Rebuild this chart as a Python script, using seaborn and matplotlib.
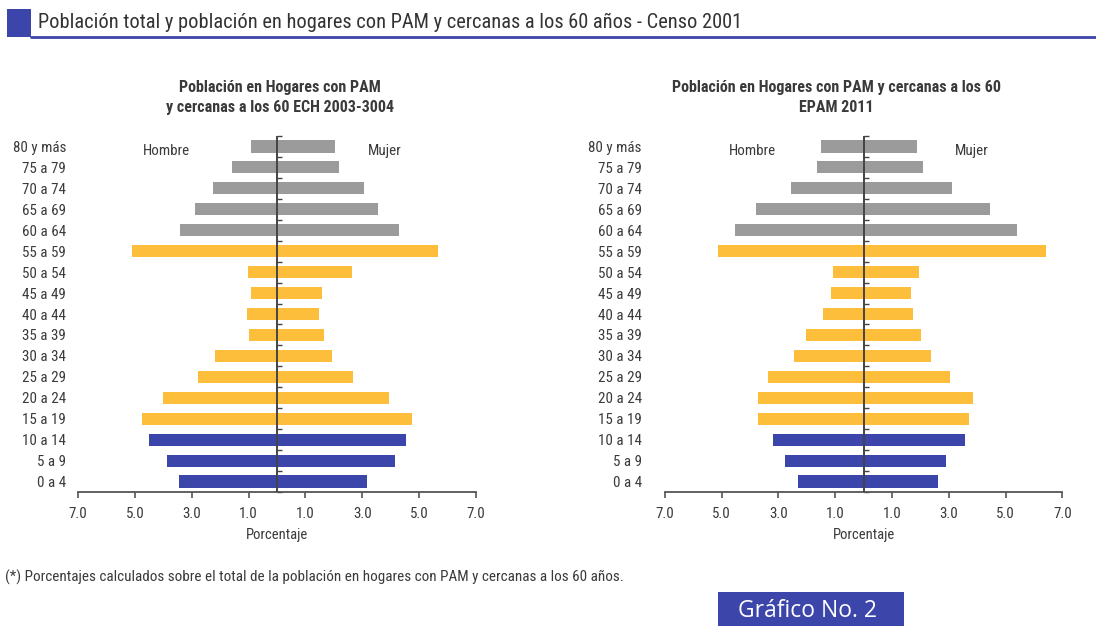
import matplotlib
matplotlib.use("Agg")
import matplotlib.pyplot as plt
from matplotlib import font_manager
from matplotlib.patches import Rectangle
from matplotlib.ticker import FuncFormatter, FixedLocator
import seaborn as sns
import pandas as pd
import numpy as np

# ---------------- data ----------------
edades = ["80 y más", "75 a 79", "70 a 74", "65 a 69", "60 a 64", "55 a 59",
          "50 a 54", "45 a 49", "40 a 44", "35 a 39", "30 a 34", "25 a 29",
          "20 a 24", "15 a 19", "10 a 14", "5 a 9", "0 a 4"]

# ECH 2003-2004
hombre_ech = [0.92, 1.58, 2.25, 2.89, 3.42, 5.10, 1.02, 0.92, 1.06, 0.99,
              2.18, 2.78, 4.01, 4.75, 4.51, 3.87, 3.45]
mujer_ech = [2.04, 2.18, 3.06, 3.56, 4.30, 5.67, 2.64, 1.58, 1.48, 1.65,
             1.94, 2.68, 3.94, 4.75, 4.54, 4.15, 3.17]

# EPAM 2011
hombre_epam = [1.51, 1.62, 2.54, 3.77, 4.54, 5.14, 1.09, 1.16, 1.44, 2.04,
               2.43, 3.38, 3.73, 3.73, 3.20, 2.78, 2.29]
mujer_epam = [1.90, 2.08, 3.13, 4.47, 5.42, 6.44, 1.94, 1.69, 1.73, 2.04,
              2.39, 3.03, 3.84, 3.73, 3.59, 2.92, 2.64]

grupo = ["mayor"] * 5 + ["cercana"] * 9 + ["nino"] * 3
colores_grupo = {"mayor": "#9b9b9b", "cercana": "#fdbe3b", "nino": "#3c45aa"}

xticks_vals = [-7, -5, -3, -1, 1, 3, 5, 7]

titulo = "Población total y población en hogares con PAM y cercanas a los 60 años - Censo 2001"
sub_izq = "Población en Hogares con PAM\ny cercanas a los 60 ECH 2003-3004"
sub_der = "Población en Hogares con PAM y cercanas a los 60\nEPAM 2011"
nota = "(*) Porcentajes calculados sobre el total de la población en hogares con PAM y cercanas a los 60 años."
grafico = "Gráfico No. 2"

# ---------------- style ----------------
sns.set_theme(style="white")
available = {f.name for f in font_manager.fontManager.ttflist}
def pick(*names):
    for n in names:
        if n in available:
            return n
    return "DejaVu Sans"
FONT = pick("Liberation Sans Narrow", "Roboto Condensed", "Open Sans Condensed",
            "Noto Sans", "DejaVu Sans")
WIDE = pick("Open Sans", "Noto Sans", "DejaVu Sans")
plt.rcParams["font.family"] = [FONT, "DejaVu Sans"]
TXT = "#3a3a3a"
BLUE = "#3c45aa"

fig = plt.figure(figsize=(10.96, 6.26), dpi=100)
W, H = 1096, 626

palette = {e: colores_grupo[g] for e, g in zip(edades, grupo)}


def piramide(ax, hombre, mujer, label_pad):
    df = pd.DataFrame({"edad": edades,
                       "hombre": [-v for v in hombre],
                       "mujer": mujer})
    for col in ["hombre", "mujer"]:
        sns.barplot(data=df, x=col, y="edad", hue="edad", order=edades,
                    hue_order=edades, palette=palette, saturation=1,
                    width=0.58, errorbar=None, legend=False, ax=ax,
                    linewidth=0, edgecolor="none")
    ax.set_xlim(-7, 7)
    ax.set_ylim(len(edades) - 0.5, -0.5)
    ax.set_xlabel("Porcentaje", color=TXT, fontsize=10.5, labelpad=5)
    ax.set_ylabel("")
    ax.xaxis.set_major_locator(FixedLocator(xticks_vals))
    ax.xaxis.set_major_formatter(FuncFormatter(lambda v, p: f"{abs(v):.1f}"))
    for s in ["top", "right", "left"]:
        ax.spines[s].set_visible(False)
    ax.spines["bottom"].set_color("#555555")
    ax.spines["bottom"].set_linewidth(1.3)
    ax.tick_params(axis="x", bottom=True, length=4, width=1.2, color="#555555",
                   labelsize=10.8, labelcolor=TXT, pad=7)
    ax.tick_params(axis="y", left=False, length=0, labelsize=10.8,
                   labelcolor=TXT, pad=label_pad)
    # centre line with small ticks between groups
    ax.axvline(0, color="#444444", lw=1.4, zorder=5)
    sec = ax.secondary_yaxis(0.5)
    sec.set_yticks(np.arange(len(edades) + 1) - 0.5)
    sec.set_yticklabels([])
    sec.tick_params(axis="y", length=3.5, width=1.0, color="#444444",
                    direction="out")
    for s in sec.spines:
        sec.spines[s].set_visible(False)
    ax.text(-3.9, 0.2, "Hombre", ha="center", va="center", color=TXT,
            fontsize=10.8)
    ax.text(3.8, 0.2, "Mujer", ha="center", va="center", color=TXT,
            fontsize=10.8)


ax1 = fig.add_axes([78 / W, 1 - 492 / H, 398 / W, 356 / H])
piramide(ax1, hombre_ech, mujer_ech, label_pad=8.5)
ax2 = fig.add_axes([664.7 / W, 1 - 492 / H, 397.6 / W, 356 / H])
piramide(ax2, hombre_epam, mujer_epam, label_pad=16.5)

# subtitles
fig.text(280 / W, 1 - 97.5 / H, sub_izq, ha="center", va="center",
         fontsize=11.5, fontweight="bold", color=TXT, linespacing=1.35)
fig.text(836 / W, 1 - 97.5 / H, sub_der, ha="center", va="center",
         fontsize=11.5, fontweight="bold", color=TXT, linespacing=1.35)

# header
fig.patches.append(Rectangle((7 / W, 1 - 37 / H), 24 / W, 28 / H,
                             transform=fig.transFigure, color=BLUE, lw=0))
fig.add_artist(plt.Line2D([31 / W, 1], [1 - 37 / H, 1 - 37 / H],
                          transform=fig.transFigure, color=BLUE, lw=2))
fig.text(38 / W, 1 - 22 / H, titulo, ha="left", va="center",
         fontsize=14.7, color="#333333")

# footnote
fig.text(5 / W, 1 - 577 / H, nota, ha="left", va="center",
         fontsize=10.9, color=TXT)

# graph label box
fig.patches.append(Rectangle((718 / W, 0), 186 / W, 34 / H,
                             transform=fig.transFigure, color=BLUE, lw=0))
fig.text(808 / W, 1 - 611 / H, grafico, ha="center", va="center",
         fontsize=16.5, color="white", family=[WIDE, "DejaVu Sans"])

fig.savefig("out.png", dpi=100)
